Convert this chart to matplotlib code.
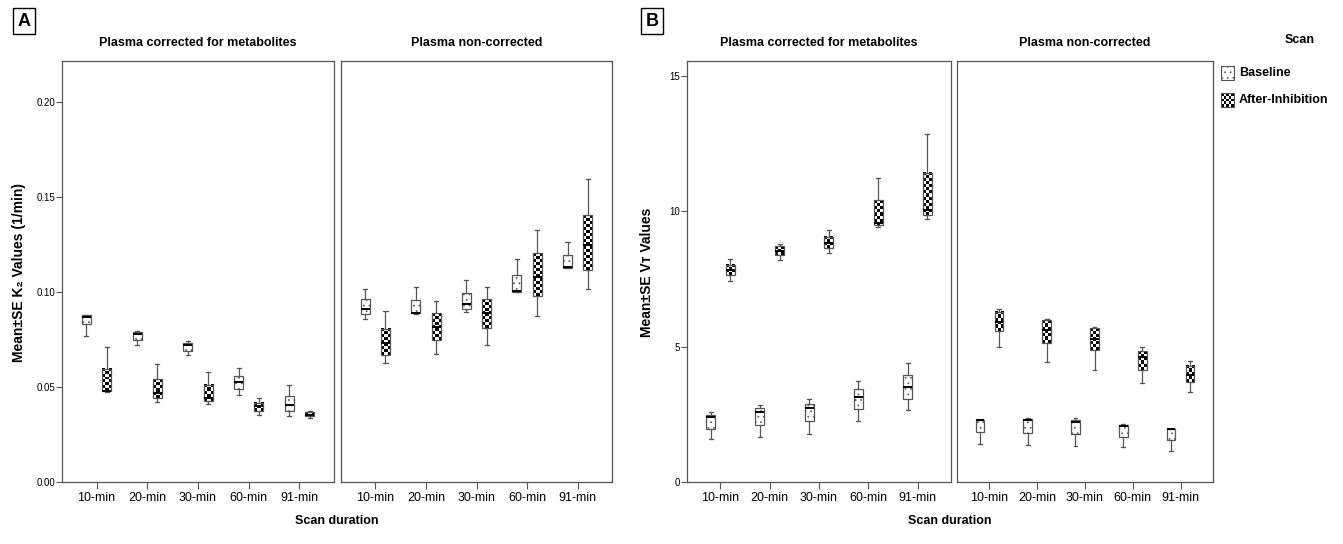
import numpy as np
import matplotlib
matplotlib.use("Agg")
import matplotlib.pyplot as plt
from matplotlib.patches import Rectangle

plt.rcParams['font.family'] = ['Liberation Sans', 'DejaVu Sans']
plt.rcParams['hatch.linewidth'] = 0.5

durations = ["10-min", "20-min", "30-min", "60-min", "91-min"]
scan_names = ["Baseline", "After-Inhibition"]

# (lower whisker, q1, median, q3, upper whisker) per scan duration
k2_corr_base = [(0.077, 0.083, 0.087, 0.088, 0.088), (0.072, 0.075, 0.078, 0.079, 0.0793),
                (0.067, 0.069, 0.072, 0.073, 0.074), (0.046, 0.049, 0.0526, 0.056, 0.060),
                (0.035, 0.0374, 0.0404, 0.0453, 0.051)]
k2_corr_inh = [(0.0474, 0.0477, 0.048, 0.0596, 0.071), (0.042, 0.044, 0.047, 0.054, 0.062),
               (0.041, 0.0425, 0.044, 0.051, 0.0577), (0.0353, 0.0372, 0.040, 0.0416, 0.044),
               (0.0337, 0.0346, 0.0355, 0.0367, 0.0372)]
k2_raw_base = [(0.0856, 0.0885, 0.0913, 0.0965, 0.1015), (0.0883, 0.0888, 0.089, 0.096, 0.1027),
               (0.0893, 0.0911, 0.0935, 0.0997, 0.1064), (0.0999, 0.1002, 0.1005, 0.1088, 0.1172),
               (0.1125, 0.1128, 0.113, 0.1195, 0.1262)]
k2_raw_inh = [(0.0624, 0.0666, 0.073, 0.0806, 0.090), (0.0673, 0.0747, 0.0817, 0.0888, 0.0953),
              (0.072, 0.0811, 0.089, 0.0962, 0.1024), (0.0874, 0.098, 0.108, 0.1205, 0.1326),
              (0.1014, 0.1116, 0.125, 0.1405, 0.1593)]
vt_corr_base = [(1.57, 1.97, 2.39, 2.49, 2.58), (1.67, 2.12, 2.57, 2.74, 2.86),
                (1.76, 2.24, 2.74, 2.88, 3.05), (2.26, 2.69, 3.14, 3.45, 3.74),
                (2.67, 3.07, 3.50, 3.94, 4.40)]
vt_corr_inh = [(7.41, 7.64, 7.83, 8.03, 8.24), (8.19, 8.38, 8.53, 8.70, 8.80),
               (8.47, 8.63, 8.84, 9.05, 9.31), (9.41, 9.48, 9.55, 10.40, 11.22),
               (9.71, 9.86, 10.05, 11.43, 12.87)]
vt_raw_base = [(1.41, 1.85, 2.28, 2.30, 2.30), (1.37, 1.81, 2.28, 2.32, 2.37),
               (1.32, 1.76, 2.22, 2.28, 2.35), (1.28, 1.67, 2.07, 2.11, 2.16),
               (1.16, 1.56, 1.95, 1.97, 1.97)]
vt_raw_inh = [(4.97, 5.57, 5.9, 6.29, 6.40), (4.43, 5.15, 5.6, 5.97, 6.03),
              (4.15, 4.86, 5.3, 5.67, 5.73), (3.65, 4.15, 4.6, 4.84, 4.99),
              (3.34, 3.69, 3.95, 4.29, 4.48)]

k2_ticks = [0.00, 0.05, 0.10, 0.15, 0.20]
vt_ticks = [0, 5, 10, 15]

W, H = 1343, 544
EDGE = "#555555"
BOX_W = 0.18
OFFSET = 0.2


def px_axes(fig, x0, y0, x1, y1):
    return fig.add_axes([x0 / W, 1 - y1 / H, (x1 - x0) / W, (y1 - y0) / H])


def checker(rows, cols):
    return (np.add.outer(np.arange(rows), np.arange(cols)) % 2).astype(float)


def to_stats(rows):
    return [dict(whislo=r[0], q1=r[1], med=r[2], q3=r[3], whishi=r[4], fliers=[]) for r in rows]


def draw_panel(ax, base, inh, ylim, ticks, title, show_y):
    pos = np.arange(len(durations))
    common = dict(widths=BOX_W, capwidths=0.08, showfliers=False, patch_artist=True,
                  whiskerprops=dict(color=EDGE, lw=0.9), capprops=dict(color=EDGE, lw=0.9),
                  medianprops=dict(color="black", lw=1.4))
    ax.bxp(to_stats(base), positions=pos - OFFSET,
           boxprops=dict(facecolor="white", edgecolor=EDGE, lw=0.9, hatch="..."), **common)
    ax.bxp(to_stats(inh), positions=pos + OFFSET,
           boxprops=dict(facecolor="none", edgecolor=EDGE, lw=0.9), **common)

    # checkerboard fill for the after-inhibition boxes
    ax_h = ax.get_position().height * H
    for p, r in zip(pos + OFFSET, inh):
        h_px = (r[3] - r[1]) / ylim[1] * ax_h
        rows = max(2, int(round(h_px / 3.0)))
        ax.imshow(checker(rows, 3), cmap="gray", vmin=0, vmax=1, interpolation="nearest",
                  aspect="auto", extent=[p - BOX_W / 2, p + BOX_W / 2, r[1], r[3]], zorder=1.9)

    ax.set_xlim(-0.68, 4.68)
    ax.set_ylim(*ylim)
    ax.set_xticks(pos)
    ax.set_xticklabels(durations, fontsize=9)
    ax.set_yticks(ticks)
    ax.tick_params(axis="x", length=5, color=EDGE, pad=2)
    if show_y:
        ax.tick_params(axis="y", length=4, color=EDGE, labelsize=7, pad=1)
    else:
        ax.tick_params(axis="y", left=False, labelleft=False)
    for s in ax.spines.values():
        s.set_color(EDGE)
        s.set_linewidth(0.9)
    ax.set_title(title, fontsize=9, fontweight="bold", pad=11)


fig = plt.figure(figsize=(W / 100, H / 100), dpi=100)

k2_lim = (0, 0.2216)
vt_lim = (0, 15.55)

ax1 = px_axes(fig, 62, 61, 334, 482)
draw_panel(ax1, k2_corr_base, k2_corr_inh, k2_lim, k2_ticks, "Plasma corrected for metabolites", True)
ax1.set_yticklabels(["%.2f" % t for t in k2_ticks])
ax2 = px_axes(fig, 341, 61, 612, 482)
draw_panel(ax2, k2_raw_base, k2_raw_inh, k2_lim, k2_ticks, "Plasma non-corrected", False)

ax3 = px_axes(fig, 687, 61, 951, 482)
draw_panel(ax3, vt_corr_base, vt_corr_inh, vt_lim, vt_ticks, "Plasma corrected for metabolites", True)
ax4 = px_axes(fig, 957, 61, 1213, 482)
draw_panel(ax4, vt_raw_base, vt_raw_inh, vt_lim, vt_ticks, "Plasma non-corrected", False)

fig.text(19 / W, 1 - 272 / H, "Mean±SE K₂ Values (1/min)", rotation=90, fontsize=10,
         fontweight="bold", ha="center", va="center")
fig.text(647 / W, 1 - 272 / H, "Mean±SE Vᴛ Values", rotation=90, fontsize=10,
         fontweight="bold", ha="center", va="center")
fig.text(337 / W, 1 - 521 / H, "Scan duration", fontsize=9, fontweight="bold", ha="center", va="center")
fig.text(950 / W, 1 - 521 / H, "Scan duration", fontsize=9, fontweight="bold", ha="center", va="center")

box = dict(boxstyle="square,pad=0.25", facecolor="white", edgecolor="black", lw=1.0)
fig.text(24 / W, 1 - 21 / H, "A", fontsize=13, fontweight="bold", ha="center", va="center", bbox=box)
fig.text(652 / W, 1 - 21 / H, "B", fontsize=13, fontweight="bold", ha="center", va="center", bbox=box)

# legend drawn by hand so the checkerboard pattern can be shown
lg = px_axes(fig, 1215, 30, 1343, 115)
lg.axis("off")
lg.text(1300, 40, "Scan", fontsize=9, fontweight="bold", ha="center", va="center")
lg.add_patch(Rectangle((1221, 66), 13, 14, facecolor="white", edgecolor=EDGE, lw=0.8, hatch="..."))
lg.imshow(checker(5, 5), cmap="gray", vmin=0, vmax=1, interpolation="nearest",
          aspect="auto", extent=[1221, 1234, 107, 93])
lg.add_patch(Rectangle((1221, 93), 13, 14, facecolor="none", edgecolor=EDGE, lw=0.8))
lg.set_xlim(1215, 1343)
lg.set_ylim(115, 30)
lg.text(1239, 73, scan_names[0], fontsize=9, fontweight="bold", ha="left", va="center")
lg.text(1239, 100, scan_names[1], fontsize=9, fontweight="bold", ha="left", va="center")

fig.savefig("out.png", dpi=100)
